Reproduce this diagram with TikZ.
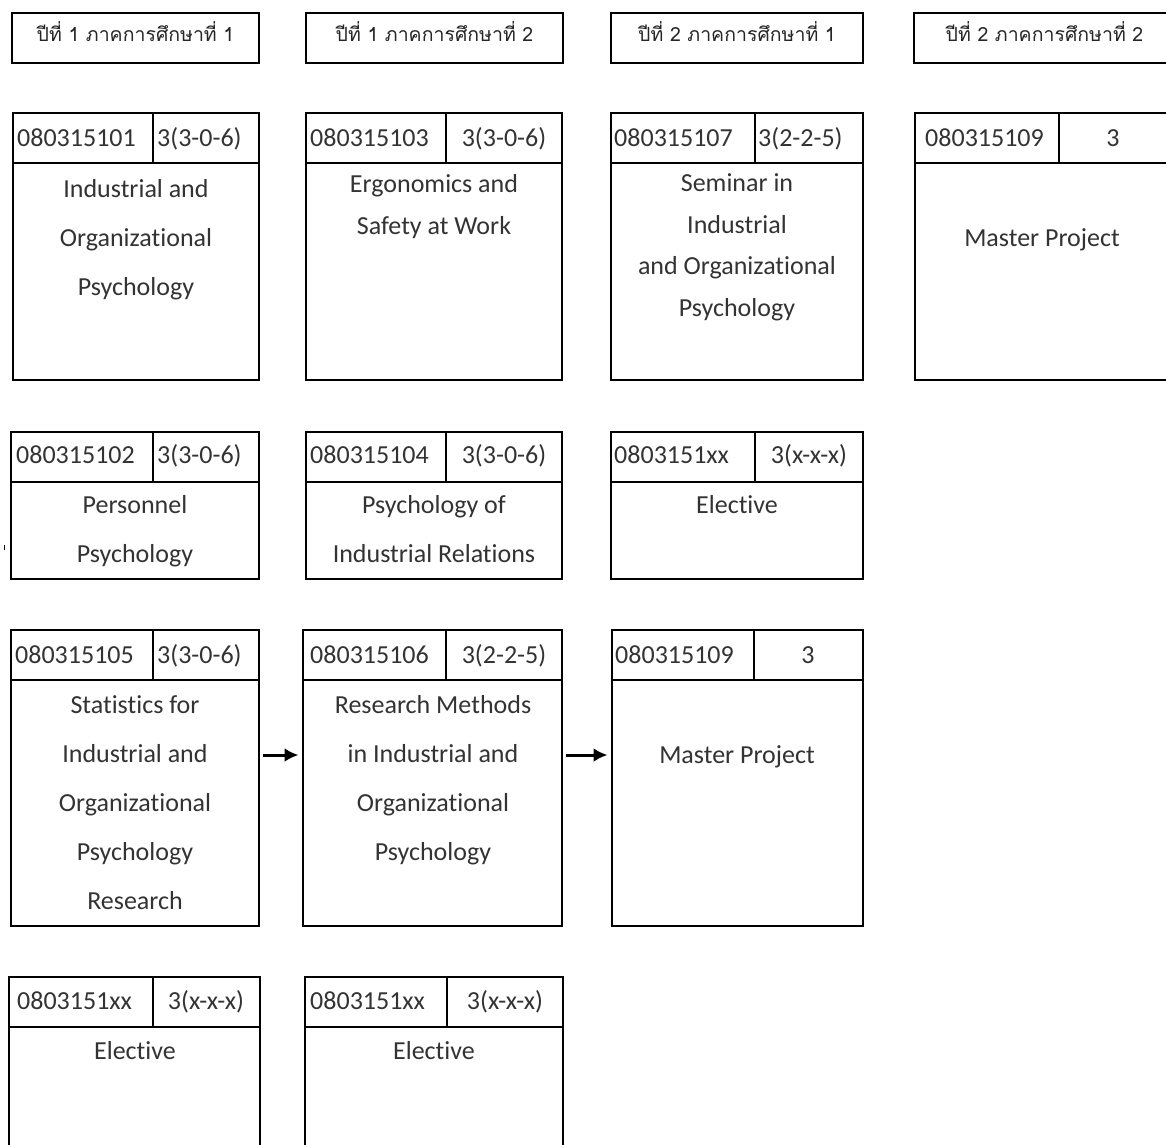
\documentclass[tikz,border=0pt]{standalone}
\usepackage{fontspec}
\setmainfont{Carlito}[RawFeature={-liga;-dlig}]
\newfontfamily\thaifont[Script=Thai]{Loma}
\usetikzlibrary{arrows.meta}
\tikzset{
  frame/.style={draw, line width=1.7pt, inner sep=0pt, outer sep=0pt},
  rule/.style={line width=1.7pt},
  txt/.style={inner sep=0pt, font=\fontsize{26}{30}\selectfont, text=black!80},
  hdr/.style={inner sep=0pt, font=\thaifont\fontsize{19.5}{22}\selectfont, text=black!85},
  arr/.style={line width=3pt, -{Latex[length=14pt,width=14pt]}, shorten <=3.5pt, shorten >=4.5pt}
}
% frame of a course box: name, x1, y1, x2, y2, divider x
\newcommand\cframe[6]{%
  \node[frame, minimum width={#4-#2}, minimum height={#5-#3}] (#1) at ({(#2+#4)/2},{(#3+#5)/2}) {};
  \draw[rule] (#2,#3+50) -- (#4,#3+50);
  \draw[rule] (#6,#3) -- (#6,#3+50);
}
\newcommand\hframe[6]{%
  \node[frame, minimum width={#4-#2}, minimum height={#5-#3}] (#1) at ({(#2+#4)/2},{(#3+#5)/2}) {};
  \node[hdr, anchor=base] (#1-t) at ({(#2+#4)/2},41) {#6};
}
\begin{document}
\begin{tikzpicture}[x=1pt,y=-1pt]
\useasboundingbox (0,0) rectangle (1166,1144);
\clip (0,0) rectangle (1166,1144);
\fill[white] (0,0) rectangle (1166,1144);

% semester headers
\hframe{h1}{12}{13}{259}{63}{ปีที่ 1 ภาคการศึกษาที่ 1}
\hframe{h2}{306}{13}{563}{63}{ปีที่ 1 ภาคการศึกษาที่ 2}
\hframe{h3}{611}{13}{863}{63}{ปีที่ 2 ภาคการศึกษาที่ 1}
\hframe{h4}{914}{13}{1175}{63}{ปีที่ 2 ภาคการศึกษาที่ 2}

% ---------- row 1 ----------
\cframe{a1}{13}{113}{259}{380}{153}
\node[txt, anchor=base west] (a1-code) at (17,146) {080315101};
\node[txt, anchor=base west] (a1-cr) at (157,146) {3(3-0-6)};
\node[txt, anchor=base] (a1-l1) at (136,197) {Industrial and};
\node[txt, anchor=base] (a1-l2) at (136,246) {Organizational};
\node[txt, anchor=base] (a1-l3) at (136,295) {Psychology};

\cframe{b1}{306}{113}{562}{380}{446}
\node[txt, anchor=base west] (b1-code) at (310,146) {080315103};
\node[txt, anchor=base] (b1-cr) at (504,146) {3(3-0-6)};
\node[txt, anchor=base] (b1-l1) at (434,192) {Ergonomics and};
\node[txt, anchor=base] (b1-l2) at (434,234) {Safety at Work};

\cframe{c1}{611}{113}{863}{380}{755}
\node[txt, anchor=base west] (c1-code) at (614,146) {080315107};
\node[txt, anchor=base west] (c1-cr) at (758,146) {3(2-2-5)};
\node[txt, anchor=base] (c1-l1) at (737,191) {Seminar in};
\node[txt, anchor=base] (c1-l2) at (737,233) {Industrial};
\node[txt, anchor=base] (c1-l3) at (737,274) {and Organizational};
\node[txt, anchor=base] (c1-l4) at (737,316) {Psychology};

\cframe{d1}{915}{113}{1170}{380}{1059}
\node[txt, anchor=base west] (d1-code) at (925,146) {080315109};
\node[txt, anchor=base] (d1-cr) at (1113,146) {3};
\node[txt, anchor=base] (d1-l1) at (1042,246) {Master Project};

% ---------- row 2 ----------
\cframe{a2}{11}{432}{259}{579}{153}
\node[txt, anchor=base west] (a2-code) at (16,463) {080315102};
\node[txt, anchor=base west] (a2-cr) at (157,463) {3(3-0-6)};
\node[txt, anchor=base] (a2-l1) at (135,513) {Personnel};
\node[txt, anchor=base] (a2-l2) at (135,562) {Psychology};

\cframe{b2}{306}{432}{562}{579}{446}
\node[txt, anchor=base west] (b2-code) at (310,463) {080315104};
\node[txt, anchor=base] (b2-cr) at (504,463) {3(3-0-6)};
\node[txt, anchor=base] (b2-l1) at (434,513) {Psychology of};
\node[txt, anchor=base] (b2-l2) at (434,562) {Industrial Relations};

\cframe{c2}{611}{432}{863}{579}{755}
\node[txt, anchor=base west] (c2-code) at (614,463) {0803151xx};
\node[txt, anchor=base] (c2-cr) at (809,463) {3(x-x-x)};
\node[txt, anchor=base] (c2-l1) at (737,513) {Elective};

\draw[line width=0.7pt] (4,545) -- (4,550);

% ---------- row 3 ----------
\cframe{a3}{11}{630}{259}{926}{153}
\node[txt, anchor=base west] (a3-code) at (15,663) {080315105};
\node[txt, anchor=base west] (a3-cr) at (157,663) {3(3-0-6)};
\node[txt, anchor=base] (a3-l1) at (135,713) {Statistics for};
\node[txt, anchor=base] (a3-l2) at (135,762) {Industrial and};
\node[txt, anchor=base] (a3-l3) at (135,811) {Organizational};
\node[txt, anchor=base] (a3-l4) at (135,860) {Psychology};
\node[txt, anchor=base] (a3-l5) at (135,909) {Research};

\cframe{b3}{303}{630}{562}{926}{446}
\node[txt, anchor=base west] (b3-code) at (310,663) {080315106};
\node[txt, anchor=base] (b3-cr) at (504,663) {3(2-2-5)};
\node[txt, anchor=base] (b3-l1) at (433,713) {Research Methods};
\node[txt, anchor=base] (b3-l2) at (433,762) {in Industrial and};
\node[txt, anchor=base] (b3-l3) at (433,811) {Organizational};
\node[txt, anchor=base] (b3-l4) at (433,860) {Psychology};

\cframe{c3}{612}{630}{863}{926}{754}
\node[txt, anchor=base west] (c3-code) at (615,663) {080315109};
\node[txt, anchor=base] (c3-cr) at (808,663) {3};
\node[txt, anchor=base] (c3-l1) at (737,763) {Master Project};

\draw[arr] (a3.east |- 0,755) -- (b3.west |- 0,755);
\draw[arr] (b3.east |- 0,755) -- (c3.west |- 0,755);

% ---------- row 4 ----------
\cframe{a4}{9}{977}{260}{1200}{153}
\node[txt, anchor=base west] (a4-code) at (17,1009) {0803151xx};
\node[txt, anchor=base] (a4-cr) at (206,1009) {3(x-x-x)};
\node[txt, anchor=base] (a4-l1) at (135,1059) {Elective};

\cframe{b4}{305}{977}{563}{1200}{447}
\node[txt, anchor=base west] (b4-code) at (310,1009) {0803151xx};
\node[txt, anchor=base] (b4-cr) at (505,1009) {3(x-x-x)};
\node[txt, anchor=base] (b4-l1) at (434,1059) {Elective};
\end{tikzpicture}
\end{document}
